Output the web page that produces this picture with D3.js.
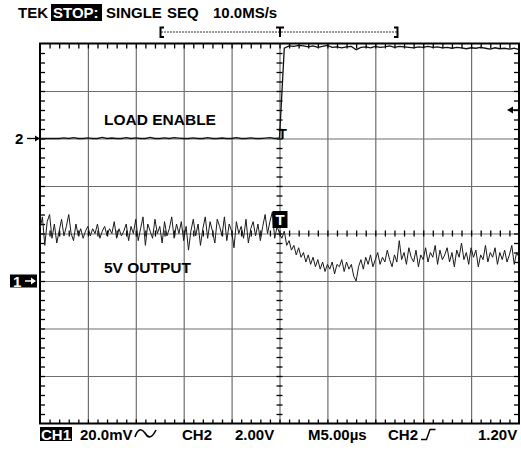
<!DOCTYPE html>
<html>
<head>
<meta charset="utf-8">
<script src="https://cdn.jsdelivr.net/npm/d3@7"></script>
<style>
  body { margin: 0; background: #fff; }
  text { font-family: "Liberation Sans", Arial, sans-serif; font-weight: bold; }
</style>
</head>
<body>
<div id="mainDiv"></div>
<script>
'use strict';

// CH1, 5V output, AC coupled, in mV (20 mV/div), one sample every 0.25 us from -25 us
var ch1Values = [
    22, 27, 15, 25, 28, 18, 24, 16, 21, 26,
    19, 23, 28, 20, 17, 24, 19, 22, 18, 21,
    23, 19, 22, 20, 24, 18, 21, 23, 19, 22,
    20, 25, 18, 22, 19, 21, 24, 17, 23, 20,
    26, 17, 22, 27, 15, 24, 21, 18, 26, 20,
    23, 16, 25, 19, 22, 27, 18, 24, 20, 25,
    17, 23, 13, 21, 26, 19, 24, 15, 22, 27,
    18, 25, 21, 16, 26, 23, 19, 27, 17, 24,
    21, 14, 25, 20, 23, 18, 26, 16, 22, 25,
    19, 24, 17, 23, 28, 20, 25, 29, 18, 23,
    20,
    18, 21, 15, 17, 13, 15, 11, 14, 10, 12,
    8, 11, 7, 10, 6, 9, 5, 8, 4, 7,
    5, 8, 3, 7, 6, 9, 4, 8, 5, 7,
    2, 0, 6, 9, 5, 10, 7, 11, 6, 9,
    12, 7, 10, 8, 13, 9, 6, 11, 8, 17,
    9, 12, 7, 14, 10, 8, 13, 6, 11, 9,
    14, 8, 12, 10, 15, 7, 13, 9, 11, 14,
    8, 12, 6, 13, 10, 16, 9, 12, 7, 14,
    10, 13, 6, 11, 9, 15, 8, 12, 10, 14,
    7, 12, 9, 13, 8, 11, 15, 7, 12, 10
];

// CH2, load enable, in volts (2 V/div), one sample every 0.5 us from -25 us
var ch2Values = [
    0, 0, 0, 0, 0, 0.03, 0, 0.04, 0, 0,
    0.03, 0, 0, 0.05, 0, 0.02, 0, 0, 0.04, 0,
    0.03, 0, 0, 0.05, 0, 0, 0.03, 0, 0.04, 0.02,
    0, 0, 0.03, 0, 0, 0.04, 0, 0, 0.02, 0,
    0, 0.04, 0, 0, 0.03, 0, 0, 0.02, 0.04, 0,
    0.03,
    3.80, 3.90, 3.88, 3.92, 3.90, 3.86, 3.90, 3.84, 3.88, 3.92,
    3.84, 3.86, 3.82, 3.86, 3.88, 3.74, 3.84, 3.86, 3.82, 3.88,
    3.84, 3.86, 3.90, 3.84, 3.88, 3.86, 3.84, 3.82, 3.86, 3.84,
    3.88, 3.84, 3.86, 3.82, 3.84, 3.80, 3.84, 3.82, 3.78, 3.82,
    3.80, 3.84, 3.80, 3.76, 3.82, 3.78, 3.80, 3.76, 3.80, 3.74
];

var headerWords = ["TEK", "STOP:", "SINGLE", "SEQ", "10.0MS/s"];
var footerWords = ["CH1", "20.0mV", "CH2", "2.00V", "M5.00\u00b5s", "CH2", "1.20V"];
var traceLabels = ["LOAD ENABLE", "5V OUTPUT"];

var scope = {};

scope.x = d3.scaleLinear().domain([-25, 25]).range([40, 519]);
scope.y = d3.scaleLinear().domain([-4, 4]).range([423.5, 43.5]);

scope.noDomain = function (g)
{
    g.select(".domain").remove();
    g.selectAll(".tick text").remove();
}

scope.appendGrid = function (svg)
{
    var x = scope.x, y = scope.y;

    svg.append("g")
        .attr("transform", "translate(0," + y(-4) + ")")
        .call(d3.axisBottom(x).tickValues(d3.range(-20, 25, 5)).tickSize(-380).tickFormat(""))
        .call(scope.noDomain)
        .selectAll("line").attr("stroke", "#6e6e6e").attr("stroke-width", 1.2);

    svg.append("g")
        .attr("transform", "translate(" + x(-25) + ",0)")
        .call(d3.axisRight(y).tickValues(d3.range(-3, 4, 1)).tickSize(479).tickFormat(""))
        .call(scope.noDomain)
        .selectAll("line").attr("stroke", "#6e6e6e").attr("stroke-width", 1.2);

    var minorX = d3.range(-24, 25, 1);
    var minorY = d3.range(-3.8, 3.81, 0.2);
    var tickAxes = [
        { axis: d3.axisBottom(x).tickValues(minorX).tickSize(5), t: "translate(0," + y(4) + ")" },
        { axis: d3.axisTop(x).tickValues(minorX).tickSize(4), t: "translate(0," + y(-4) + ")" },
        { axis: d3.axisBottom(x).tickValues(minorX).tickSize(6), t: "translate(0," + (y(0) - 3) + ")" },
        { axis: d3.axisRight(y).tickValues(minorY).tickSize(5), t: "translate(" + x(-25) + ",0)" },
        { axis: d3.axisLeft(y).tickValues(minorY).tickSize(5), t: "translate(" + x(25) + ",0)" },
        { axis: d3.axisRight(y).tickValues(minorY).tickSize(6), t: "translate(" + (x(0) - 3) + ",0)" }
    ];
    tickAxes.forEach(function (a)
    {
        svg.append("g")
            .attr("transform", a.t)
            .call(a.axis.tickFormat(""))
            .call(scope.noDomain)
            .selectAll("line").attr("stroke", "#000").attr("stroke-width", 1.3);
    });

    svg.append("rect")
        .attr("x", x(-25)).attr("y", y(4))
        .attr("width", x(25) - x(-25)).attr("height", y(-4) - y(4))
        .attr("fill", "none").attr("stroke", "#000").attr("stroke-width", 2);
}

scope.appendTraces = function (svg)
{
    var x = scope.x, y = scope.y;

    var ch1Line = d3.line()
        .x(function (d, i) { return x(-25 + i * 0.25); })
        .y(function (d) { return y(-1 + d / 20); });
    var ch2Line = d3.line()
        .x(function (d, i) { return x(-25 + i * 0.5); })
        .y(function (d) { return y(2 + d / 2); });

    svg.append("path").datum(ch2Values)
        .attr("d", ch2Line)
        .attr("fill", "none").attr("stroke", "#111").attr("stroke-width", 1.3);

    svg.append("path").datum(ch1Values)
        .attr("d", ch1Line)
        .attr("fill", "none").attr("stroke", "#1a1a1a").attr("stroke-width", 1);
}

scope.appendText = function (svg, txt, x, y, size, fill, anchor)
{
    return svg.append("text")
        .text(txt)
        .attr("x", x).attr("y", y)
        .attr("font-size", size + "px")
        .attr("fill", fill || "#000")
        .attr("text-anchor", anchor || "start");
}

scope.appendLabels = function (svg)
{
    var x = scope.x, y = scope.y;

    // header line
    var headerX = [18, 53, 106, 167, 213];
    svg.append("rect").attr("x", 51).attr("y", 4).attr("width", 51).attr("height", 17).attr("fill", "#000");
    headerWords.forEach(function (w, i)
    {
        scope.appendText(svg, w, headerX[i], 18, 15, i == 1 ? "#fff" : "#000");
    });

    // record window bracket
    var by = 32;
    svg.append("line").attr("x1", 161).attr("x2", 397).attr("y1", by).attr("y2", by)
        .attr("stroke", "#333").attr("stroke-width", 1).attr("stroke-dasharray", "2,1");
    svg.append("path").attr("d", "M164,27.5H160.5V37H164").attr("fill", "none").attr("stroke", "#000").attr("stroke-width", 2);
    svg.append("path").attr("d", "M394,27.5H397.5V37H394").attr("fill", "none").attr("stroke", "#000").attr("stroke-width", 2);
    svg.append("path").attr("d", "M276,27.5H284M280,27.5V37").attr("fill", "none").attr("stroke", "#000").attr("stroke-width", 2);

    // trace names
    scope.appendText(svg, traceLabels[0], 104, 125, 15.5);
    scope.appendText(svg, traceLabels[1], 104, 273, 15.5);

    // channel 2 ground marker
    var y2 = y(2);
    scope.appendText(svg, "2", 15, y2 + 5, 15);
    svg.append("line").attr("x1", 27).attr("x2", 36).attr("y1", y2).attr("y2", y2).attr("stroke", "#000").attr("stroke-width", 1.3);
    svg.append("path").attr("d", "M40," + y2 + "L35," + (y2 - 3) + "V" + (y2 + 3) + "Z").attr("fill", "#000");

    // channel 1 ground marker
    var y1 = y(-1);
    svg.append("rect").attr("x", 10).attr("y", y1 - 6.5).attr("width", 27).attr("height", 13).attr("fill", "#000");
    scope.appendText(svg, "1", 13, y1 + 5.5, 15, "#fff");
    svg.append("line").attr("x1", 25).attr("x2", 33).attr("y1", y1).attr("y2", y1).attr("stroke", "#fff").attr("stroke-width", 1.5);
    svg.append("path").attr("d", "M36," + y1 + "L31," + (y1 - 3.5) + "V" + (y1 + 3.5) + "Z").attr("fill", "#fff");

    // trigger level arrow on the right
    var yt = y(2 + 1.2 / 2);
    svg.append("path").attr("d", "M507," + yt + "L513," + (yt - 3.5) + "V" + (yt + 3.5) + "Z").attr("fill", "#000");
    svg.append("line").attr("x1", 512).attr("x2", 518).attr("y1", yt).attr("y2", yt).attr("stroke", "#000").attr("stroke-width", 1.5);

    // trigger point markers
    var xt = x(0);
    svg.append("rect").attr("x", xt - 7).attr("y", 211).attr("width", 15).attr("height", 17).attr("fill", "#000");
    scope.appendText(svg, "T", xt + 0.5, 225, 15, "#fff", "middle");
    scope.appendText(svg, "T", xt + 3, y2 + 0.5, 14, "#000", "middle");

    // footer line
    var footerX = [41, 80, 182, 235, 308, 388, 478];
    svg.append("rect").attr("x", 40).attr("y", 427).attr("width", 32).attr("height", 14).attr("fill", "#000");
    footerWords.forEach(function (w, i)
    {
        scope.appendText(svg, w, footerX[i], 440, 15, i == 0 ? "#fff" : "#000");
    });
    // AC coupling glyph
    svg.append("path").attr("d", "M135,437 Q139,425 145,433 Q150,442 156,430")
        .attr("fill", "none").attr("stroke", "#000").attr("stroke-width", 1.6);
    // rising slope glyph
    svg.append("path").attr("d", "M421,439.5H426.5L430,429.5H435.5")
        .attr("fill", "none").attr("stroke", "#000").attr("stroke-width", 1.4);
}

scope.run = function ()
{
    var svg = d3.select("#mainDiv").append("svg")
        .attr("width", 521)
        .attr("height", 450);

    scope.appendGrid(svg);
    scope.appendTraces(svg);
    scope.appendLabels(svg);
}

window.onload = scope.run;
</script>
</body>
</html>
